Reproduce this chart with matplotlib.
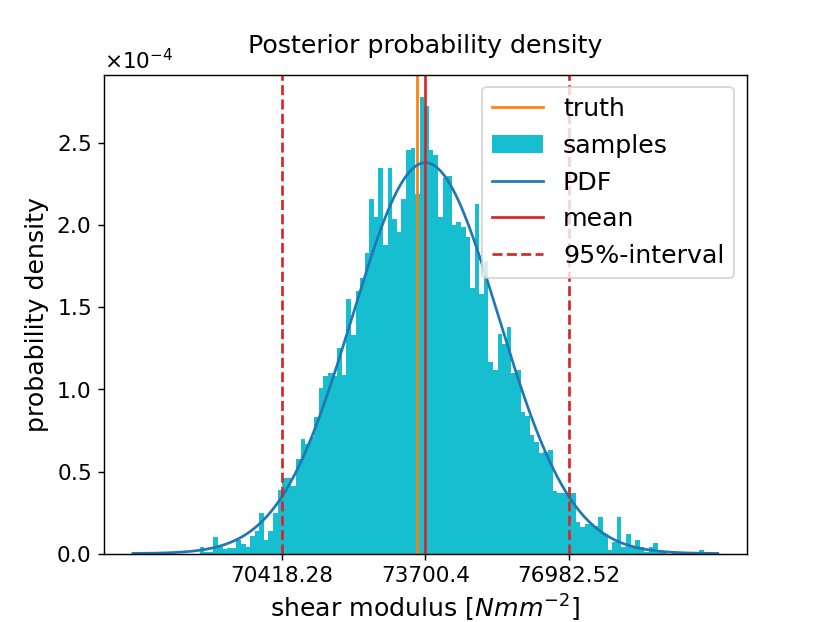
import numpy as np
import matplotlib
matplotlib.use('Agg')
import matplotlib.pyplot as plt
from matplotlib.ticker import ScalarFormatter

# 사후분포 요약값
mean = 73700.4
half_width = 3282.12          # 95%-구간 반폭 (1.96 sigma)
truth = 73500.0
sigma = half_width / 1.96

# 히스토그램 (밀도, x1e-4), 그림에서 읽은 값
bin_lo, bin_hi = 68530.0, 80080.0
density = [
    0.04, 0.012, 0.012, 0.10, 0.043, 0.03, 0.037, 0.037, 0.08, 0.06,
    0.043, 0.11, 0.14, 0.245, 0.085, 0.14, 0.245, 0.385, 0.46, 0.46,
    0.41, 0.575, 0.70, 0.67, 0.71, 0.83, 1.01, 1.08, 1.10, 1.08,
    1.25, 1.09, 1.55, 1.33, 1.60, 1.68, 1.83, 2.16, 2.05, 2.35,
    1.88, 2.35, 2.04, 1.96, 2.16, 2.46, 2.47, 2.19, 2.78, 2.73,
    2.46, 2.43, 2.05, 2.29, 2.30, 2.00, 2.02, 1.99, 1.93, 1.62,
    2.13, 1.58, 1.78, 1.17, 1.12, 1.34, 1.28, 1.38, 1.10, 1.12,
    0.86, 0.84, 0.72, 0.68, 0.61, 0.62, 0.63, 0.38, 0.37, 0.37,
    0.37, 0.37, 0.19, 0.16, 0.18, 0.18, 0.17, 0.22, 0.12, 0.02,
    0.07, 0.22, 0.04, 0.12, 0.04, 0.085, 0.04, 0.012, 0.04, 0.065,
    0.02, 0.006, 0.0, 0.006, 0.0, 0.0, 0.0, 0.0, 0.0, 0.02,
]

edges = np.linspace(bin_lo, bin_hi, len(density) + 1)
heights = np.array(density) * 1e-4

x = np.linspace(mean - 4 * sigma, mean + 4 * sigma, 400)
pdf = np.exp(-0.5 * ((x - mean) / sigma) ** 2) / (sigma * np.sqrt(2 * np.pi))

fig, ax = plt.subplots(figsize=(6.385, 4.785), dpi=130)

h_truth = ax.axvline(truth, color='tab:orange', label='truth')
h_samp = ax.bar(edges[:-1], heights, width=np.diff(edges), align='edge',
                color='tab:cyan', label='samples')
h_pdf, = ax.plot(x, pdf, color='tab:blue', label='PDF')
h_mean = ax.axvline(mean, color='tab:red', label='mean')
h_int = ax.axvline(mean - half_width, color='tab:red', linestyle='--', label='95%-interval')
ax.axvline(mean + half_width, color='tab:red', linestyle='--')

ax.set_xticks([mean - half_width, mean, mean + half_width])
ax.set_xticklabels(['70418.28', '73700.4', '76982.52'])
fmt = ScalarFormatter(useMathText=True)
fmt.set_powerlimits((0, 0))
ax.yaxis.set_major_formatter(fmt)
ax.tick_params(labelsize=12)
ax.yaxis.get_offset_text().set_fontsize(12)

ax.set_title('Posterior probability density', fontsize=14, pad=12)
ax.set_xlabel('shear modulus [$Nmm^{-2}$]', fontsize=14)
ax.set_ylabel('probability density', fontsize=14)
ax.legend(handles=[h_truth, h_samp, h_pdf, h_mean, h_int], fontsize=14, loc='upper right')

fig.savefig('out.png')
